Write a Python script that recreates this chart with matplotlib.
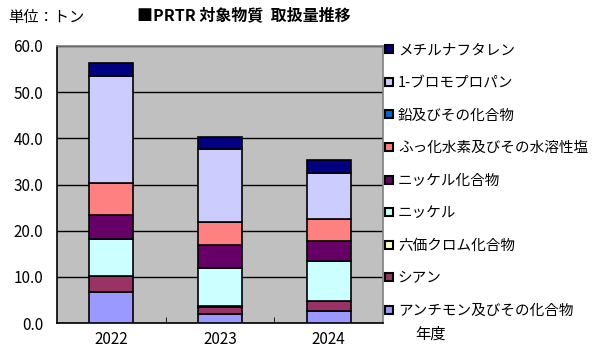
import numpy as np
import matplotlib.pyplot as plt
from matplotlib.lines import Line2D

plt.rcParams['font.family'] = ['Noto Sans CJK JP', 'DejaVu Sans']

years = ['2022', '2023', '2024']

# bottom-to-top stacking order
names = ['アンチモン及びその化合物', 'シアン', '六価クロム化合物', 'ニッケル',
         'ニッケル化合物', 'ふっ化水素及びその水溶性塩', '鉛及びその化合物',
         '1-ブロモプロパン', 'メチルナフタレン']
antimony = [6.8, 1.9, 2.7]
cyanide = [3.4, 1.6, 2.0]
chromium6 = [0.0, 0.3, 0.0]
nickel = [8.0, 8.2, 8.8]
nickel_comp = [5.3, 5.0, 4.2]
hf = [6.9, 4.8, 4.8]
lead = [0.0, 0.0, 0.0]
bromopropane = [23.1, 15.9, 10.1]
methylnaph = [2.8, 2.6, 2.8]

series = [antimony, cyanide, chromium6, nickel, nickel_comp, hf, lead,
          bromopropane, methylnaph]
colors = ['#9999FF', '#993366', '#FFFFCC', '#CCFFFF', '#660066',
          '#FF8080', '#0066CC', '#CCCCFF', '#000080']

fig = plt.figure(figsize=(5.94, 3.59), dpi=100)
ax = fig.add_axes([0.096, 0.100, 0.549, 0.772])
ax.set_facecolor('#C0C0C0')

x = np.arange(len(years))
bottom = np.zeros(len(years))
for vals, c in zip(series, colors):
    vals = np.array(vals)
    ax.bar(x, vals, 0.405, bottom=bottom, color=c, edgecolor='black',
           linewidth=1.2, zorder=3)
    bottom += vals

ax.set_xlim(-0.5, 2.5)
ax.set_ylim(0, 60)
ax.set_yticks(np.arange(0, 61, 10))
ax.set_yticklabels(['%.1f' % v for v in np.arange(0, 61, 10)], fontsize=11)
ax.yaxis.grid(True, color='black', linewidth=1.0, zorder=1)
ax.set_axisbelow(True)
ax.tick_params(axis='y', length=0, pad=10)

ax.set_xticks(x)
ax.set_xticklabels(years, fontsize=11)
ax.set_xticks([0.5, 1.5], minor=True)
ax.tick_params(axis='x', which='major', length=0, pad=6)
ax.tick_params(axis='x', which='minor', direction='in', length=4, color='black')

for s in ['left', 'bottom']:
    ax.spines[s].set_color('black')
    ax.spines[s].set_linewidth(1.2)
for s in ['top', 'right']:
    ax.spines[s].set_color('#808080')
    ax.spines[s].set_linewidth(1.2)

handles = [Line2D([], [], linestyle='none', marker='s', markersize=6,
                  markerfacecolor=c, markeredgecolor='black', markeredgewidth=1.5)
           for c in colors]
fig.legend(handles[::-1], names[::-1], loc='upper left',
           bbox_to_anchor=(0.638, 0.895), frameon=False, fontsize=10.5,
           handlelength=0.6, handletextpad=0.3, labelspacing=1.27,
           borderaxespad=0)

fig.text(0.014, 0.952, '単位：トン', fontsize=11, va='center')
fig.text(0.410, 0.957, '■PRTR 対象物質  取扱量推移', fontsize=11.5,
         fontweight='bold', va='center', ha='center')
fig.text(0.724, 0.068, '年度', fontsize=11, va='center', ha='center')

fig.savefig('out.png', dpi=100)
